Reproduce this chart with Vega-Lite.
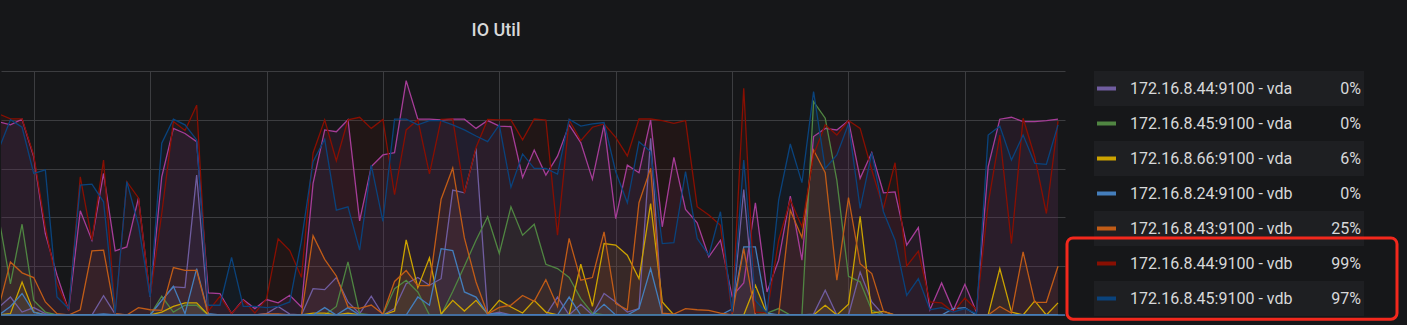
{
  "$schema": "https://vega.github.io/schema/vega-lite/v6.json",
  "background": "#161719",
  "padding": {"left": 0, "right": 50, "top": 22, "bottom": 4},
  "spacing": 29,
  "bounds": "flush",
  "config": {
    "view": {"stroke": null},
    "font": "Roboto",
    "axis": {"gridColor": "#3c3d40", "gridWidth": 1, "labels": false, "ticks": false, "domain": false, "title": null}
  },
  "datasets": {
    "io": [
      {"t":-3,"vda43":99,"vda44":4,"vda45":50,"vda66":0,"vdb24":0,"vdb43":4,"vdb44":103,"vdb45":85},
      {"t":-2,"vda43":97.4,"vda44":9.2,"vda45":16,"vda66":0.7,"vdb24":4.4,"vdb43":27.2,"vdb44":100.5,"vdb45":100},
      {"t":-1,"vda43":100.3,"vda44":1.5,"vda45":46.5,"vda66":16.9,"vdb24":11,"vdb43":21.6,"vdb44":100.5,"vdb45":96.2},
      {"t":0,"vda43":81.1,"vda44":3.8,"vda45":7.5,"vda66":1.5,"vdb24":1.5,"vdb43":19.2,"vdb44":82,"vdb45":72.5},
      {"t":1,"vda43":41.7,"vda44":0.7,"vda45":1.5,"vda66":0,"vdb24":0,"vdb43":6.7,"vdb44":45,"vdb45":74.3},
      {"t":2,"vda43":20.4,"vda44":0,"vda45":0,"vda66":0,"vdb24":0,"vdb43":0.7,"vdb44":16,"vdb45":9.2},
      {"t":3,"vda43":2.4,"vda44":0,"vda45":0,"vda66":0,"vdb24":0,"vdb43":0,"vdb44":2.8,"vdb45":3.3},
      {"t":4,"vda43":53.4,"vda44":0,"vda45":0,"vda66":0,"vdb24":0,"vdb43":2.7,"vdb44":70.8,"vdb45":66.6},
      {"t":5,"vda43":38.3,"vda44":0,"vda45":0,"vda66":0,"vdb24":0,"vdb43":32.9,"vdb44":38.5,"vdb45":67},
      {"t":6,"vda43":72.5,"vda44":9.9,"vda45":0,"vda66":0,"vdb24":0.5,"vdb43":33.2,"vdb44":79.4,"vdb45":58},
      {"t":7,"vda43":32.9,"vda44":0.5,"vda45":0,"vda66":0,"vdb24":0,"vdb43":0.7,"vdb44":0.6,"vdb45":0.7},
      {"t":8,"vda43":34.9,"vda44":0,"vda45":0,"vda66":0,"vdb24":0,"vdb43":0,"vdb44":68.3,"vdb45":68.3},
      {"t":9,"vda43":60,"vda44":0,"vda45":0,"vda66":0,"vdb24":0,"vdb43":3.8,"vdb44":60,"vdb45":46},
      {"t":10,"vda43":9.2,"vda44":0,"vda45":0,"vda66":0,"vdb24":0,"vdb43":2.7,"vdb44":9.5,"vdb45":9.2},
      {"t":11,"vda43":70.8,"vda44":7.5,"vda45":9.6,"vda66":1.5,"vdb24":7.5,"vdb43":2.4,"vdb44":52,"vdb45":88},
      {"t":12,"vda43":95.6,"vda44":14.4,"vda45":1.5,"vda66":4.4,"vdb24":14.7,"vdb43":24.3,"vdb44":99.1,"vdb45":100.3},
      {"t":13,"vda43":93,"vda44":14,"vda45":5,"vda66":6.2,"vdb24":0.7,"vdb43":22.9,"vdb44":94.5,"vdb45":97.4},
      {"t":14,"vda43":88.8,"vda44":71.7,"vda45":5,"vda66":6.2,"vdb24":23.8,"vdb43":22.9,"vdb44":107.5,"vdb45":89.7},
      {"t":15,"vda43":11.3,"vda44":0,"vda45":0,"vda66":0,"vdb24":0.7,"vdb43":0,"vdb44":2,"vdb45":5},
      {"t":16,"vda43":11,"vda44":0,"vda45":0,"vda66":0,"vdb24":0,"vdb43":0,"vdb44":9.5,"vdb45":5},
      {"t":17,"vda43":0.7,"vda44":0,"vda45":0,"vda66":0,"vdb24":0,"vdb43":0,"vdb44":0.7,"vdb45":29.5},
      {"t":18,"vda43":7.9,"vda44":0,"vda45":0,"vda66":0,"vdb24":0,"vdb43":0,"vdb44":7.5,"vdb45":4.4},
      {"t":19,"vda43":3.3,"vda44":0,"vda45":0,"vda66":0,"vdb24":0,"vdb43":0,"vdb44":1,"vdb45":4.4},
      {"t":20,"vda43":7.9,"vda44":0.7,"vda45":0,"vda66":0,"vdb24":0,"vdb43":0.5,"vdb44":8.3,"vdb45":3.8},
      {"t":21,"vda43":6.2,"vda44":4.4,"vda45":0,"vda66":0,"vdb24":0,"vdb43":0.5,"vdb44":39,"vdb45":4.4},
      {"t":22,"vda43":10.1,"vda44":0.5,"vda45":0,"vda66":0,"vdb24":0,"vdb43":0,"vdb44":33,"vdb45":6.7},
      {"t":23,"vda43":4.1,"vda44":0,"vda45":0,"vda66":0,"vdb24":0,"vdb43":0,"vdb44":19.3,"vdb45":38},
      {"t":24,"vda43":67.4,"vda44":13.5,"vda45":0,"vda66":1,"vdb24":0,"vdb43":40.6,"vdb44":83,"vdb45":78.5},
      {"t":25,"vda43":94.8,"vda44":13,"vda45":0,"vda66":1,"vdb24":3.8,"vdb43":28.5,"vdb44":100,"vdb45":90},
      {"t":26,"vda43":93.9,"vda44":19.2,"vda45":4.4,"vda66":0,"vdb24":0,"vdb43":20,"vdb44":79,"vdb45":53.7},
      {"t":27,"vda43":100,"vda44":6.7,"vda45":27.2,"vda66":1,"vdb24":3.8,"vdb43":4.2,"vdb44":100,"vdb45":55.4},
      {"t":28,"vda43":48.2,"vda44":0.7,"vda45":0.7,"vda66":0,"vdb24":0,"vdb43":3.4,"vdb44":101.3,"vdb45":33.2},
      {"t":29,"vda43":76,"vda44":9.6,"vda45":0,"vda66":0,"vdb24":0,"vdb43":5.1,"vdb44":95.6,"vdb45":76.8},
      {"t":30,"vda43":82,"vda44":0,"vda45":0,"vda66":0,"vdb24":0,"vdb43":0.5,"vdb44":100.2,"vdb45":48},
      {"t":31,"vda43":83.2,"vda44":3.3,"vda45":13.5,"vda66":2,"vdb24":0,"vdb43":17.2,"vdb44":61.6,"vdb45":100.3},
      {"t":32,"vda43":120.1,"vda44":16,"vda45":17.8,"vda66":38.5,"vdb24":0,"vdb43":22.8,"vdb44":94.8,"vdb45":100.3},
      {"t":33,"vda43":100.3,"vda44":19.2,"vda45":11.8,"vda66":14,"vdb24":9.2,"vdb43":15.1,"vdb44":100,"vdb45":97.4},
      {"t":34,"vda43":100.3,"vda44":15.2,"vda45":0,"vda66":29.3,"vdb24":5,"vdb43":15.1,"vdb44":72.3,"vdb45":99.6},
      {"t":35,"vda43":100,"vda44":18.6,"vda45":0,"vda66":0.4,"vdb24":34,"vdb43":59.3,"vdb44":100.2,"vdb45":99.6},
      {"t":36,"vda43":100.3,"vda44":64,"vda45":12,"vda66":7.5,"vdb24":33,"vdb43":75.3,"vdb44":100.5,"vdb45":97.4},
      {"t":37,"vda43":100.3,"vda44":62.6,"vda45":25,"vda66":2,"vdb24":11.8,"vdb43":39.5,"vdb44":62.3,"vdb45":94.8},
      {"t":38,"vda43":95.6,"vda44":85.4,"vda45":38.3,"vda66":7.5,"vdb24":9.2,"vdb43":16.9,"vdb44":85.8,"vdb45":91.7},
      {"t":39,"vda43":99.6,"vda44":0.3,"vda45":50.3,"vda66":0.6,"vdb24":0.5,"vdb43":0.5,"vdb44":100.2,"vdb45":88.8},
      {"t":40,"vda43":96.8,"vda44":1.5,"vda45":31.5,"vda66":7.5,"vdb24":0.7,"vdb43":3.9,"vdb44":100,"vdb45":97.4},
      {"t":41,"vda43":96.5,"vda44":0,"vda45":55.4,"vda66":4.1,"vdb24":0,"vdb43":5.1,"vdb44":100,"vdb45":65.4},
      {"t":42,"vda43":70.5,"vda44":0,"vda45":40.9,"vda66":1,"vdb24":0,"vdb43":10,"vdb44":89.7,"vdb45":82.5},
      {"t":43,"vda43":84.5,"vda44":0,"vda45":46.5,"vda66":7.5,"vdb24":0,"vdb43":7,"vdb44":100.4,"vdb45":75.1},
      {"t":44,"vda43":71.7,"vda44":0,"vda45":26,"vda66":1.5,"vdb24":0,"vdb43":18.1,"vdb44":99.9,"vdb45":75.1},
      {"t":45,"vda43":81.4,"vda44":9.2,"vda45":23.8,"vda66":0,"vdb24":0,"vdb43":4.4,"vdb44":40.9,"vdb45":72.2},
      {"t":46,"vda43":97.4,"vda44":0,"vda45":19.2,"vda66":0,"vdb24":9.2,"vdb43":39.2,"vdb44":99.9,"vdb45":100.3},
      {"t":47,"vda43":88.3,"vda44":5.5,"vda45":8.4,"vda66":26,"vdb24":0,"vdb43":17.8,"vdb44":89.3,"vdb45":96.8},
      {"t":48,"vda43":69.5,"vda44":0,"vda45":1,"vda66":4.4,"vdb24":0,"vdb43":19.2,"vdb44":96.2,"vdb45":97.9},
      {"t":49,"vda43":97.4,"vda44":11,"vda45":0,"vda66":36.6,"vdb24":5.5,"vdb43":42.6,"vdb44":97.9,"vdb45":98.6},
      {"t":50,"vda43":49.4,"vda44":6.7,"vda45":0,"vda66":35.8,"vdb24":0,"vdb43":5.8,"vdb44":91,"vdb45":73.4},
      {"t":51,"vda43":76.8,"vda44":1.5,"vda45":0,"vda66":30.6,"vdb24":0,"vdb43":2.7,"vdb44":81.5,"vdb45":57.5},
      {"t":52,"vda43":72.9,"vda44":3.3,"vda45":0,"vda66":18.6,"vdb24":3.3,"vdb43":57.5,"vdb44":100.4,"vdb45":88.8},
      {"t":53,"vda43":100,"vda44":90.5,"vda45":0,"vda66":57.1,"vdb24":23.8,"vdb43":75.1,"vdb44":100.4,"vdb45":83.7},
      {"t":54,"vda43":45.2,"vda44":0,"vda45":0,"vda66":6.7,"vdb24":0.7,"vdb43":1,"vdb44":99.6,"vdb45":36.6},
      {"t":55,"vda43":80.8,"vda44":0,"vda45":0,"vda66":0,"vdb24":0,"vdb43":0.5,"vdb44":98.2,"vdb45":37.1},
      {"t":56,"vda43":54.1,"vda44":0,"vda45":0,"vda66":0,"vdb24":0,"vdb43":3.3,"vdb44":99.6,"vdb45":73.4},
      {"t":57,"vda43":47.2,"vda44":0,"vda45":0,"vda66":0,"vdb24":0,"vdb43":2.7,"vdb44":55.5,"vdb45":39.2},
      {"t":58,"vda43":29.8,"vda44":0,"vda45":0,"vda66":0,"vdb24":0,"vdb43":2.4,"vdb44":51.2,"vdb45":30.6},
      {"t":59,"vda43":38.3,"vda44":0,"vda45":0,"vda66":0,"vdb24":0,"vdb43":1,"vdb44":46,"vdb45":52.9},
      {"t":60,"vda43":9.6,"vda44":0,"vda45":0,"vda66":0,"vdb24":3,"vdb43":0,"vdb44":0.7,"vdb45":1.5},
      {"t":61,"vda43":16.4,"vda44":64.3,"vda45":0,"vda66":0,"vdb24":34.9,"vdb43":34,"vdb44":116.2,"vdb45":79.4},
      {"t":62,"vda43":57.5,"vda44":0,"vda45":0,"vda66":15.2,"vdb24":34.9,"vdb43":0,"vdb44":1.5,"vdb45":7.5},
      {"t":63,"vda43":11.8,"vda44":0,"vda45":1,"vda66":0.5,"vdb24":1,"vdb43":0,"vdb44":1,"vdb45":1},
      {"t":64,"vda43":28.1,"vda44":0,"vda45":3.3,"vda66":0,"vdb24":0,"vdb43":0,"vdb44":38.3,"vdb45":58.9},
      {"t":65,"vda43":60.9,"vda44":0,"vda45":0,"vda66":0,"vdb24":0,"vdb43":53.7,"vdb44":58.9,"vdb45":87.6},
      {"t":66,"vda43":28.1,"vda44":0,"vda45":0,"vda66":0,"vdb24":0,"vdb43":39.7,"vdb44":45.2,"vdb45":67.8},
      {"t":67,"vda43":91.4,"vda44":0.5,"vda45":109.3,"vda66":0,"vdb24":0,"vdb43":84.5,"vdb44":82,"vdb45":114.5},
      {"t":68,"vda43":95.6,"vda44":12.7,"vda45":100.8,"vda66":5,"vdb24":0,"vdb43":72.9,"vdb44":97.4,"vdb45":75.1},
      {"t":69,"vda43":94.8,"vda44":0,"vda45":69,"vda66":0,"vdb24":0,"vdb43":17.8,"vdb44":92.2,"vdb45":82},
      {"t":70,"vda43":99.6,"vda44":0,"vda45":19.8,"vda66":5.5,"vdb24":0,"vdb43":60.2,"vdb44":99.6,"vdb45":97.9},
      {"t":71,"vda43":70,"vda44":22,"vda45":17,"vda66":50.6,"vdb24":0,"vdb43":26.3,"vdb44":95.6,"vdb45":54.6},
      {"t":72,"vda43":83.2,"vda44":6.7,"vda45":2.4,"vda66":1,"vdb24":0,"vdb43":21.2,"vdb44":74.3,"vdb45":83.2},
      {"t":73,"vda43":62.6,"vda44":0,"vda45":0,"vda66":1.9,"vdb24":0,"vdb43":2,"vdb44":54.6,"vdb45":52.9},
      {"t":74,"vda43":63.1,"vda44":0,"vda45":0,"vda66":0,"vdb24":0,"vdb43":0,"vdb44":78,"vdb45":38.3},
      {"t":75,"vda43":35.8,"vda44":0,"vda45":0,"vda66":0,"vdb24":0,"vdb43":0,"vdb44":25,"vdb45":10.1},
      {"t":76,"vda43":44.8,"vda44":0,"vda45":0,"vda66":0,"vdb24":0,"vdb43":0,"vdb44":32.7,"vdb45":18.6},
      {"t":77,"vda43":2.7,"vda44":0,"vda45":0,"vda66":0,"vdb24":0,"vdb43":0,"vdb44":6.7,"vdb45":2.7},
      {"t":78,"vda43":16.4,"vda44":0,"vda45":0,"vda66":0,"vdb24":0,"vdb43":0,"vdb44":6.2,"vdb45":3.8},
      {"t":79,"vda43":2.4,"vda44":0,"vda45":0,"vda66":0,"vdb24":3.3,"vdb43":0,"vdb44":1.5,"vdb45":1.5},
      {"t":80,"vda43":15.7,"vda44":0,"vda45":0,"vda66":0,"vdb24":3.8,"vdb43":0,"vdb44":8.7,"vdb45":3.3},
      {"t":81,"vda43":1.5,"vda44":0,"vda45":0,"vda66":0,"vdb24":0,"vdb43":0,"vdb44":2.7,"vdb45":0.7},
      {"t":82,"vda43":76,"vda44":0,"vda45":0,"vda66":0,"vdb24":0,"vdb43":0,"vdb44":57.1,"vdb45":92.2},
      {"t":83,"vda43":100.3,"vda44":0,"vda45":0,"vda66":23.8,"vdb24":0,"vdb43":4.4,"vdb44":92.2,"vdb45":96.8},
      {"t":84,"vda43":101.3,"vda44":0,"vda45":0,"vda66":1.5,"vdb24":0,"vdb43":1,"vdb44":36.6,"vdb45":79.4},
      {"t":85,"vda43":99.1,"vda44":0,"vda45":0,"vda66":0,"vdb24":0,"vdb43":32.3,"vdb44":100.8,"vdb45":92.2},
      {"t":86,"vda43":99.1,"vda44":0,"vda45":0,"vda66":7.2,"vdb24":0,"vdb43":6.5,"vdb44":81.1,"vdb45":77.7},
      {"t":87,"vda43":99.6,"vda44":0,"vda45":0,"vda66":0,"vdb24":0,"vdb43":6.5,"vdb44":52,"vdb45":77.2},
      {"t":88,"vda43":100.3,"vda44":0,"vda45":0,"vda66":6.2,"vdb24":0,"vdb43":25,"vdb44":99.3,"vdb45":97.4}
    ],
    "legend": [
      {"order": 1, "s": "vda44", "name": "172.16.8.44:9100 - vda", "current": 0},
      {"order": 2, "s": "vda45", "name": "172.16.8.45:9100 - vda", "current": 0},
      {"order": 3, "s": "vda66", "name": "172.16.8.66:9100 - vda", "current": 0.06},
      {"order": 4, "s": "vdb24", "name": "172.16.8.24:9100 - vdb", "current": 0},
      {"order": 5, "s": "vdb43", "name": "172.16.8.43:9100 - vdb", "current": 0.25},
      {"order": 6, "s": "vdb44", "name": "172.16.8.44:9100 - vdb", "current": 0.99},
      {"order": 7, "s": "vdb45", "name": "172.16.8.45:9100 - vdb", "current": 0.97}
    ]
  },
  "hconcat": [
    {
      "width": 1064,
      "height": 244,
      "title": {"text": "IO Util", "anchor": "middle", "dx": -37, "offset": 31, "fontSize": 18, "fontWeight": 500, "color": "#d8d9da", "font": "Roboto"},
      "data": {"name": "io"},
      "transform": [{"fold": ["vda43", "vda44", "vda45", "vda66", "vdb24", "vdb43", "vdb44", "vdb45"], "as": ["s", "v"]}],
      "layer": [
        {
          "mark": {"type": "area", "fillOpacity": 0.1, "clip": true},
          "encoding": {
            "x": {"field": "t", "type": "quantitative", "scale": {"domain": [-2.81, 88.6], "nice": false, "zero": false}, "axis": {"values": [0, 10, 20, 30, 40, 50, 60, 70, 80], "grid": true}},
            "y": {"field": "v", "type": "quantitative", "stack": null, "scale": {"domain": [0, 125], "nice": false}, "axis": {"values": [0, 25, 50, 75, 100, 125], "grid": true}},
            "color": {"field": "s", "type": "nominal", "legend": null, "scale": {"domain": ["vda43", "vda44", "vda45", "vda66", "vdb24", "vdb43", "vdb44", "vdb45"], "range": ["#A63D98", "#705DA0", "#508642", "#CCA300", "#447EBC", "#C15C17", "#890F02", "#0A437C"]}}
          }
        },
        {
          "mark": {"type": "line", "strokeWidth": 1.3, "clip": true},
          "encoding": {
            "x": {"field": "t", "type": "quantitative"},
            "y": {"field": "v", "type": "quantitative", "stack": null},
            "color": {"field": "s", "type": "nominal", "legend": null}
          }
        },
        {
          "data": {"values": [{}]},
          "mark": {"type": "rule", "color": "#447EBC", "strokeWidth": 1.5},
          "encoding": {"y": {"datum": 0}}
        }
      ]
    },
    {
      "width": 270,
      "height": 245,
      "data": {"name": "legend"},
      "encoding": {
        "y": {"field": "order", "type": "quantitative", "axis": null, "scale": {"domain": [0.5, 7.5], "reverse": true, "nice": false, "zero": false}}
      },
      "layer": [
        {
          "transform": [{"filter": "datum.order % 2 == 1"}],
          "mark": {"type": "rule", "color": "#1e1f22", "strokeWidth": 35, "strokeCap": "butt"},
          "encoding": {}
        },
        {
          "mark": {"type": "rule", "strokeWidth": 4, "strokeCap": "butt"},
          "encoding": {
            "x": {"value": 3},
            "x2": {"value": 22},
            "color": {"field": "s", "type": "nominal", "legend": null, "scale": {"domain": ["vda43", "vda44", "vda45", "vda66", "vdb24", "vdb43", "vdb44", "vdb45"], "range": ["#A63D98", "#705DA0", "#508642", "#CCA300", "#447EBC", "#C15C17", "#890F02", "#0A437C"]}}
          }
        },
        {
          "mark": {"type": "text", "align": "left", "baseline": "middle", "fontSize": 16, "color": "#d8d9da", "font": "Roboto"},
          "encoding": {"x": {"value": 36}, "text": {"field": "name"}}
        },
        {
          "mark": {"type": "text", "align": "right", "baseline": "middle", "fontSize": 16, "color": "#d8d9da", "font": "Roboto"},
          "encoding": {"x": {"value": 267}, "text": {"field": "current", "type": "quantitative", "format": ".0%"}}
        },
        {
          "transform": [{"filter": "datum.order == 6"}],
          "mark": {"type": "rect", "fill": "transparent", "stroke": "#f3281d", "strokeWidth": 3, "cornerRadius": 6, "clip": false},
          "encoding": {
            "x": {"value": -27},
            "x2": {"value": 303},
            "y": {"datum": 5.27},
            "y2": {"datum": 7.59}
          }
        }
      ]
    }
  ]
}
